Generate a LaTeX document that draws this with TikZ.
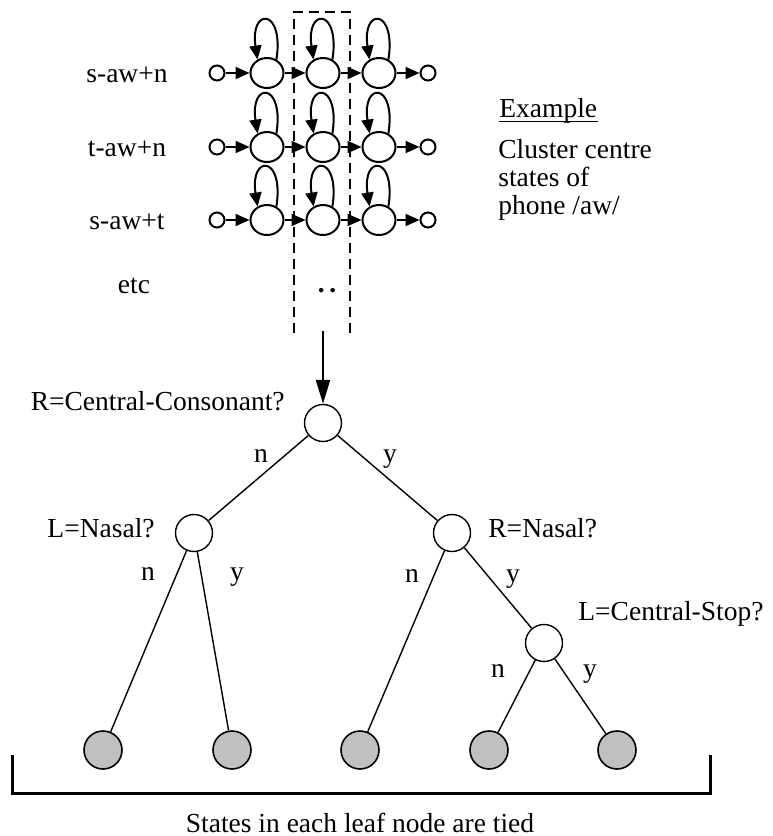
\documentclass[tikz,border=0pt]{standalone}
\usepackage{fontspec}
\setmainfont{Liberation Serif}
\usetikzlibrary{arrows.meta,shapes.geometric}

\definecolor{leafgray}{RGB}{192,192,192}

\begin{document}
\begin{tikzpicture}[
  x=0.5pt, y=-0.5pt,
  font=\fontsize{13.75}{16}\selectfont,
  txt/.style={inner sep=0pt},
  hmmstate/.style={
    draw,
    ellipse,
    line width=1pt,
    minimum width=16.5pt,
    minimum height=15pt,
    inner sep=0pt
  },
  endstate/.style={draw, circle, line width=1pt, minimum size=7.5pt, inner sep=0pt},
  hmmarrow/.style={line width=1pt, -{Triangle[length=7pt,width=6pt]}},
  bigarrow/.style={line width=1.2pt, -{Triangle[length=12pt,width=7pt]}},
  dashbox/.style={line width=1pt, dash pattern=on 5pt off 3pt},
  question/.style={draw, circle, line width=0.7pt, fill=white, minimum size=18.5pt, inner sep=0pt},
  leaf/.style={question, fill=leafgray, line width=0.8pt, minimum size=19pt},
  branch/.style={line width=0.7pt},
  answer/.style={txt, anchor=base}
]
\useasboundingbox (0,0) rectangle (772,836);

% --- HMMs of the cluster centre states ---
\foreach \r/\yy in {1/73,2/147,3/220}{
  \node[endstate] (in\r) at (217,\yy) {};
  \node[hmmstate] (st\r-1) at (267,\yy) {};
  \node[hmmstate] (st\r-2) at (323,\yy) {};
  \node[hmmstate] (st\r-3) at (379,\yy) {};
  \node[endstate] (out\r) at (428,\yy) {};
  \draw[hmmarrow] (in\r) -- (st\r-1);
  \draw[hmmarrow] (st\r-1) -- (st\r-2);
  \draw[hmmarrow] (st\r-2) -- (st\r-3);
  \draw[hmmarrow] (st\r-3) -- (out\r);
  \foreach \c in {1,2,3}
    \draw[hmmarrow] (st\r-\c.55) .. controls +(8,-52) and +(-8,-52) .. (st\r-\c.125);
}

% model names
\node[txt, anchor=base] (m1) at (127,82) {s-aw+n};
\node[txt, anchor=base] (m2) at (127,156) {t-aw+n};
\node[txt, anchor=base] (m3) at (127,229) {s-aw+t};
\node[txt, anchor=base] (m4) at (134,293) {etc};
\node[txt, anchor=base] (dots) at (327,292) {\bfseries .\kern2.3pt.};

% dashed box round the centre states
\draw[dashbox] (294,333) -- (294,12) -- (350,12) -- (350,333);
\coordinate (boxfoot) at (323,331);

% --- Example note ---
\node[txt, anchor=base west] (ex) at (499,117) {Example};
\draw[line width=0.5pt] ([yshift=-2pt]ex.base west) -- ([yshift=-2pt]ex.base east);
\node[txt, anchor=base west] (ex1) at (498,158) {Cluster centre};
\node[txt, anchor=base west] (ex2) at (498,186) {states of};
\node[txt, anchor=base west] (ex3) at (498,214) {phone /aw/};

% --- Decision tree ---
\node[question] (root) at (323,423) {};
\node[question] (lnasal) at (194,533) {};
\node[question] (rnasal) at (452,533) {};
\node[question] (lstop) at (544,643) {};
\node[leaf] (leaf1) at (103,750) {};
\node[leaf] (leaf2) at (232,750) {};
\node[leaf] (leaf3) at (360,750) {};
\node[leaf] (leaf4) at (489,750) {};
\node[leaf] (leaf5) at (617,750) {};

\draw[bigarrow] (boxfoot) -- (root);

\draw[branch] (root) -- (lnasal);
\draw[branch] (root) -- (rnasal);
\draw[branch] (lnasal) -- (leaf1);
\draw[branch] (lnasal) -- (leaf2);
\draw[branch] (rnasal) -- (leaf3);
\draw[branch] (rnasal) -- (lstop);
\draw[branch] (lstop) -- (leaf4);
\draw[branch] (lstop) -- (leaf5);

% questions
\node[txt, anchor=base east] (q1) at (285,410) {R=Central-Consonant?};
\node[txt, anchor=base east] (q2) at (155,537) {L=Nasal?};
\node[txt, anchor=base west] (q3) at (488,537) {R=Nasal?};
\node[txt, anchor=base west] (q4) at (578,620) {L=Central-Stop?};

% answers
\node[answer] at (261,462) {n};
\node[answer] at (390,462) {y};
\node[answer] at (148,580) {n};
\node[answer] at (237,580) {y};
\node[answer] at (412,582) {n};
\node[answer] at (513,582) {y};
\node[answer] at (498,677) {n};
\node[answer] at (590,677) {y};

% --- bracket under the leaves ---
\draw[line width=1.5pt] (12,755) |- (710,793) -- (710,755);
\node[txt, anchor=base] (tied) at (360,832) {States in each leaf node are tied};

\end{tikzpicture}
\end{document}
